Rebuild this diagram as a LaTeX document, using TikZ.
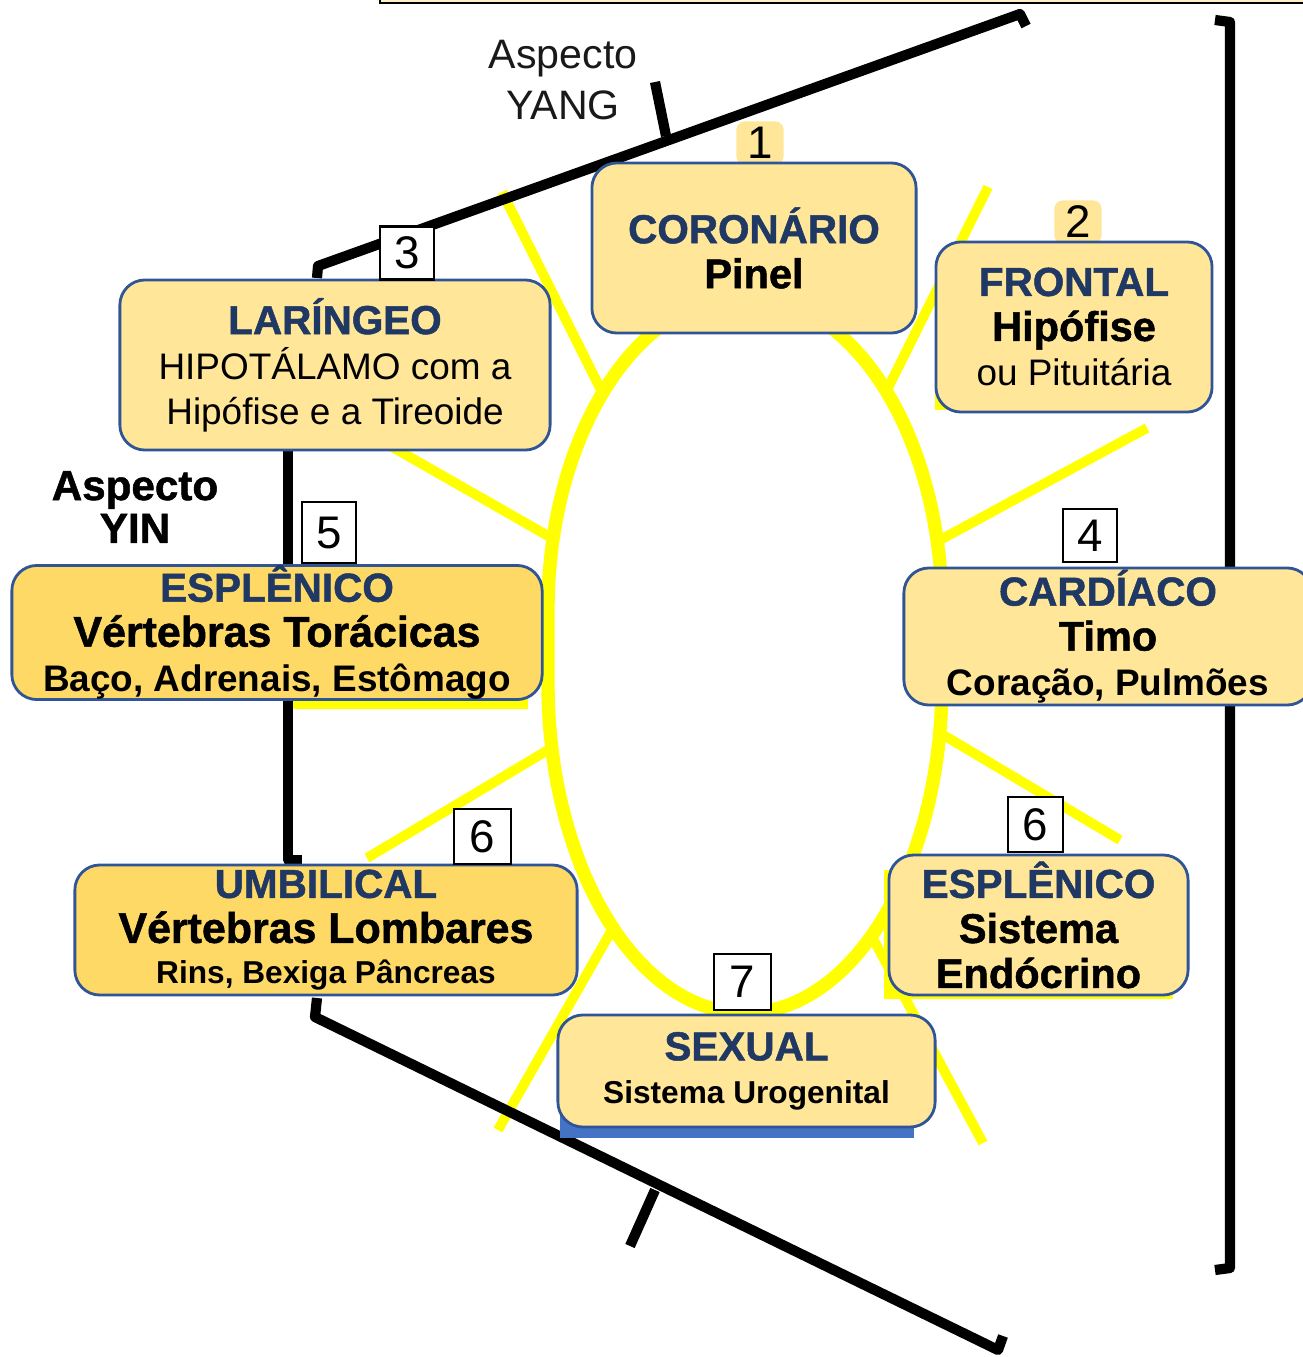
\documentclass[tikz,border=0pt]{standalone}
\usepackage{fontspec}
\setmainfont{Liberation Sans}
\newfontfamily\blackfont[FakeBold=1.2]{Liberation Sans Bold}
\definecolor{boxfill}{HTML}{FFE699}
\definecolor{boxdark}{HTML}{FFD966}
\definecolor{boxline}{HTML}{2F5597}
\definecolor{titleblue}{HTML}{203864}
\definecolor{shadowblue}{HTML}{4472C4}
\definecolor{rayyellow}{HTML}{FFFF00}
\newcommand\chtitle{\fontsize{11.5}{12.8}\selectfont\blackfont\color{titleblue}}
\newcommand\chbold{\fontsize{11.8}{12.8}\selectfont\blackfont}
\newcommand\chheavy{\fontsize{12.2}{12.8}\selectfont\blackfont}
\newcommand\chmid{\fontsize{10.5}{12.8}\selectfont\bfseries}
\newcommand\chsmall{\fontsize{9}{12.8}\selectfont\bfseries}
\begin{document}
\begin{tikzpicture}[x=0.01cm,y=-0.01cm,
  chakra/.style={draw=boxline, line width=0.8pt, fill=boxfill, rounded corners=0.25cm,
    align=center, inner sep=0pt, font=\fontsize{10.5}{12.8}\selectfont},
  dark/.style={fill=boxdark},
  num/.style={draw=black, line width=0.6pt, fill=white, inner sep=0pt,
    minimum width=0.54cm, minimum height=0.53cm, font=\fontsize{13}{13}\selectfont},
  tab/.style={fill=boxfill, rounded corners=0.08cm, inner sep=0pt,
    minimum width=0.47cm, minimum height=0.43cm, font=\fontsize{13}{13}\selectfont},
  ray/.style={draw=rayyellow, line width=2.8pt},
  bar/.style={draw=black, line width=2.9pt, line join=round}]
  \useasboundingbox (0,0) rectangle (1302,1357);
  \draw[fill=boxfill!55, line width=0.8pt] (380,-20) rectangle (1320,3);

  % yellow oval and rays
  \fill[rayyellow] (884,870) rectangle (1173,999);
  \fill[rayyellow] (935,385) rectangle (947,410);
  \draw[rayyellow, line width=3.8pt] (548,610) .. controls (548,436.6) and (636.2,296) .. (745,296)
    .. controls (853.8,296) and (942,436.6) .. (942,610) -- (942,683)
    .. controls (942,865.3) and (853.8,1013) .. (745,1013)
    .. controls (636.2,1013) and (548,865.3) .. (548,683) -- cycle;
  \draw[ray] (502,192) -- (602,392);
  \draw[ray] (988,187) -- (887,390);
  \draw[ray] (380,440) -- (550,537);
  \draw[ray] (1147,428) -- (940,540);
  \draw[ray] (367,858) -- (548,750);
  \draw[ray] (1120,840) -- (940,733);
  \draw[ray] (498,1130) -- (613,928);
  \draw[ray] (983,1143) -- (870,933);
  \draw[ray, line width=3.1pt] (292,704) -- (528,704);

  % black brackets
  \draw[bar] (317,278) -- (318,266) -- (1020,14) -- (1026,26);
  \draw[bar] (655,82) -- (666,136);
  \draw[bar] (288,445) -- (288,860) -- (302,860);
  \draw[bar] (317,998) -- (315,1017) -- (998,1350) -- (1003,1336);
  \draw[bar] (655,1190) -- (630,1246);
  \draw[bar] (1215,20) -- (1230,22) -- (1230,1268) -- (1215,1270);

  \node[font=\fontsize{11.7}{14.5}\selectfont, text=black!90, align=center] (yang) at (563,80) {Aspecto\\YANG};
  \node[font=\fontsize{12}{12.2}\selectfont\blackfont, align=center] (yin) at (135,507) {Aspecto\\YIN};

  \node[tab] (t1) at (760,143) {1};
  \node[tab] (t2) at (1078,222) {2};
  \fill[shadowblue] (560,1100) rectangle (914,1138);

  \node[chakra, minimum width=3.24cm, minimum height=1.70cm] (coron) at (754,248)
    {{\chtitle CORONÁRIO}\\{\chbold Pinel}};
  \node[chakra, minimum width=2.76cm, minimum height=1.70cm] (frontal) at (1074,327)
    {{\chtitle FRONTAL}\\{\chbold Hipófise}\\ou Pituitária};
  \node[chakra, minimum width=4.30cm, minimum height=1.70cm] (laring) at (335,365)
    {{\chtitle LARÍNGEO}\\HIPOTÁLAMO com a\\Hipófise e a Tireoide};
  \node[chakra, minimum width=4.08cm, minimum height=1.37cm] (cardiac) at (1108,636.5)
    {{\chtitle CARDÍACO}\\{\chbold Timo}\\{\chmid Coração, Pulmões}};
  \node[chakra, dark, minimum width=5.30cm, minimum height=1.31cm] (esplL) at (277,632.5)
    {{\chtitle ESPLÊNICO}\\{\chheavy Vértebras Torácicas}\\{\chmid Baço, Adrenais, Estômago}};
  \node[chakra, dark, minimum width=5.02cm, minimum height=1.30cm] (umbil) at (326,930)
    {{\chtitle UMBILICAL}\\{\chheavy Vértebras Lombares}\\[-1.2pt]{\chsmall Rins, Bexiga Pâncreas}};
  \node[chakra, minimum width=2.99cm, minimum height=1.40cm] (esplR) at (1038.5,925)
    {{\chtitle ESPLÊNICO}\\{\chbold Sistema}\\{\chbold Endócrino}};
  \node[chakra, minimum width=3.77cm, minimum height=1.12cm] (sexual) at (746.5,1071)
    {{\chtitle SEXUAL}\\[-0.6pt]{\chsmall Sistema Urogenital}};

  \node[num] (n3) at (407,253) {3};
  \node[num, minimum height=0.61cm] (n5) at (329,532.5) {5};
  \node[num] (n4) at (1090,535.5) {4};
  \node[num, minimum width=0.57cm, minimum height=0.55cm] (n6a) at (482.5,836.5) {6};
  \node[num, minimum width=0.55cm, minimum height=0.55cm] (n6b) at (1035.5,824.5) {6};
  \node[num, minimum width=0.57cm, minimum height=0.56cm] (n7) at (742.5,982) {7};
\end{tikzpicture}
\end{document}
